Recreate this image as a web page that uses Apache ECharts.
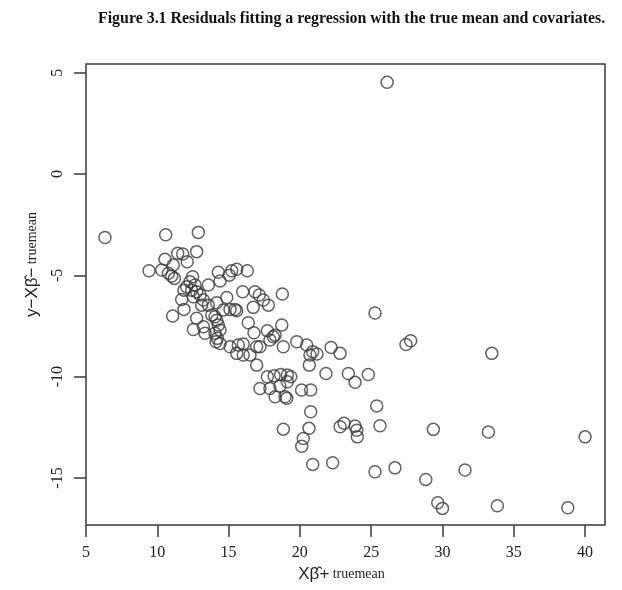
<!DOCTYPE html>
<html>
<head>
<meta charset="utf-8">
<script src="https://cdn.jsdelivr.net/npm/echarts@6/dist/echarts.min.js"></script>
<style>
    html, body { margin: 0; padding: 0; background: #fff; }
    #chart { width: 622px; height: 590px; }
</style>
</head>
<body>
<div id="chart"></div>
<script>
    // fitted values (x) and residuals (y)
    var fitted = [
        26.12, 6.33, 10.59, 12.88, 12.76, 11.43, 11.78, 12.10, 10.54, 11.12,
        9.42, 10.31, 10.78, 11.20, 11.01, 12.48, 13.58, 14.28, 15.05, 15.22,
        15.57, 16.31, 14.40, 15.99, 16.85, 16.73, 14.87, 14.17, 15.45, 15.57,
        11.71, 11.87, 11.08, 12.76, 13.11, 12.53, 13.35, 15.10, 15.68, 16.03,
        16.38, 16.78, 16.97, 12.29, 12.06, 12.65, 11.87, 12.41, 12.76, 13.00,
        12.53, 13.23, 13.58, 13.82, 14.05, 14.63, 15.10, 14.17, 14.28, 13.23,
        14.40, 14.05, 14.21, 14.12, 14.40, 15.57, 16.03, 17.15, 17.44, 17.79,
        18.77, 18.73, 17.72, 18.14, 18.26, 17.90, 19.78, 20.48, 20.90, 20.71,
        20.66, 18.84, 17.20, 16.50, 16.97, 21.20, 22.19, 22.82, 21.83, 23.40,
        23.87, 24.80, 27.44, 27.77, 33.46, 25.27, 17.72, 18.19, 18.65, 19.12,
        19.36, 19.12, 18.60, 17.20, 17.90, 18.26, 18.96, 19.08, 20.12, 20.76,
        20.76, 18.84, 20.64, 20.24, 20.13, 20.90, 22.30, 22.82, 23.10, 23.87,
        23.99, 24.03, 25.39, 25.62, 25.27, 26.67, 29.36, 33.22, 40.00, 28.83,
        31.58, 29.67, 30.00, 33.85, 38.79
    ];
    var residual = [
        4.53, -3.13, -3.00, -2.88, -3.83, -3.91, -3.95, -4.33, -4.21, -4.49,
        -4.77, -4.74, -4.90, -5.15, -5.03, -5.07, -5.48, -4.85, -4.99, -4.77,
        -4.70, -4.77, -5.28, -5.81, -5.81, -6.58, -6.09, -6.35, -6.68, -6.75,
        -6.19, -6.68, -7.01, -7.12, -6.47, -7.67, -7.86, -8.52, -8.44, -8.39,
        -7.34, -7.83, -8.52, -5.32, -5.56, -5.48, -5.73, -5.73, -5.81, -5.97,
        -6.06, -6.22, -6.47, -6.96, -7.04, -6.71, -6.68, -7.21, -7.45, -7.54,
        -7.70, -7.86, -8.11, -8.28, -8.36, -8.85, -8.93, -5.97, -6.22, -6.47,
        -5.92, -7.45, -7.73, -8.03, -7.95, -8.19, -8.28, -8.44, -8.77, -8.93,
        -9.43, -8.52, -8.52, -8.93, -9.43, -8.88, -8.56, -8.85, -9.84, -9.84,
        -10.28, -9.89, -8.41, -8.23, -8.85, -6.86, -10.00, -9.96, -9.89, -9.92,
        -10.00, -10.25, -10.46, -10.58, -10.58, -10.99, -10.99, -11.07, -10.66, -10.66,
        -11.73, -12.59, -12.55, -13.05, -13.43, -14.33, -14.25, -12.47, -12.30, -12.44,
        -12.64, -12.97, -11.45, -12.42, -14.69, -14.50, -12.60, -12.73, -12.97, -15.07,
        -14.61, -16.22, -16.50, -16.37, -16.47
    ];
    var xTicks = [5, 10, 15, 20, 25, 30, 35, 40];
    var yTicks = [-15, -10, -5, 0, 5];

    var points = fitted.map(function (x, i) { return [x, residual[i]]; });

    var lineColor = '#3a3a3a';
    var serif = 'Liberation Serif';

    var chart = echarts.init(document.getElementById('chart'));
    chart.setOption({
        animation: false,
        backgroundColor: '#fff',
        title: {
            text: 'Figure 3.1 Residuals fitting a regression with the true mean and covariates.',
            left: 93,
            top: 6,
            textStyle: { fontFamily: serif, fontWeight: 'bold', fontSize: 15.9, color: '#111' }
        },
        grid: {
            left: 86, right: 17, top: 64, bottom: 65,
            show: true, borderColor: lineColor, borderWidth: 1.5, backgroundColor: 'transparent'
        },
        xAxis: {
            type: 'value',
            min: 5, max: 41.4,
            splitLine: { show: false },
            axisLine: { show: false, onZero: false },
            axisTick: { show: true, length: 12, customValues: xTicks, lineStyle: { color: lineColor, width: 1.5 } },
            axisLabel: { customValues: xTicks, margin: 20, fontFamily: serif, fontSize: 16, color: '#222' },
            name: '{a|Xβ̂+} {b|truemean}',
            nameLocation: 'middle',
            nameGap: 41,
            nameTextStyle: {
                padding: [0, 8, 0, 0],
                rich: {
                    a: { fontFamily: 'Liberation Sans', fontSize: 17, color: '#222' },
                    b: { fontFamily: serif, fontSize: 14, color: '#222' }
                }
            }
        },
        yAxis: {
            type: 'value',
            min: -17.32, max: 5.43,
            splitLine: { show: false },
            axisLine: { show: false, onZero: false },
            axisTick: { show: true, length: 12, customValues: yTicks, lineStyle: { color: lineColor, width: 1.5 } },
            axisLabel: { customValues: yTicks, rotate: 90, margin: 20, fontFamily: serif, fontSize: 16, color: '#222' },
            name: '{a|y−Xβ̂−} {b|truemean}',
            nameLocation: 'middle',
            nameRotate: 90,
            nameGap: 45,
            nameTextStyle: {
                padding: [0, 0, 0, 60],
                rich: {
                    a: { fontFamily: 'Liberation Sans', fontSize: 17, color: '#222' },
                    b: { fontFamily: serif, fontSize: 14, color: '#222' }
                }
            }
        },
        series: [{
            type: 'scatter',
            data: points,
            symbol: 'circle',
            symbolSize: 12,
            itemStyle: { color: 'transparent', borderColor: lineColor, borderWidth: 1.5 }
        }]
    });
</script>
</body>
</html>
